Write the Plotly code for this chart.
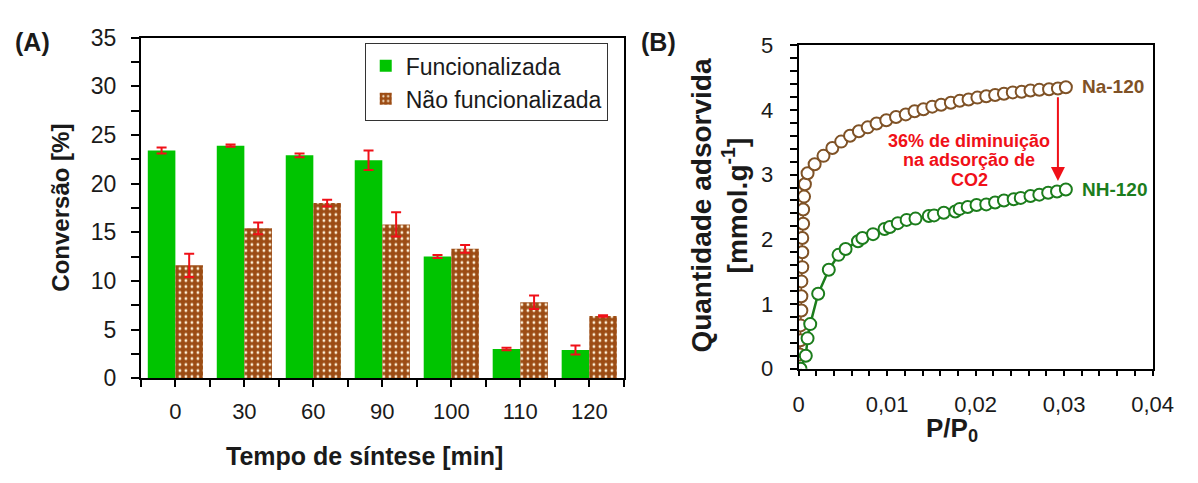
import plotly.graph_objects as go

# ---------------- Panel A data ----------------
tempo = ["0", "30", "60", "90", "100", "110", "120"]
func_vals = [23.4, 23.9, 22.9, 22.4, 12.5, 3.0, 2.9]
func_err = [0.3, 0.12, 0.2, 1.0, 0.15, 0.12, 0.45]
nfunc_vals = [11.6, 15.4, 18.0, 15.8, 13.3, 7.8, 6.4]
nfunc_err = [1.2, 0.6, 0.35, 1.25, 0.4, 0.7, 0.08]

# ---------------- Panel B data ----------------
na_p = [0.0001, 0.0002, 0.0002, 0.0003, 0.0003, 0.0003, 0.0004, 0.0004, 0.0004, 0.0005, 0.0005, 0.0006, 0.0007,
        0.0010, 0.0018, 0.0028, 0.0038, 0.0048, 0.0058, 0.0068, 0.0078, 0.0088, 0.0099,
        0.0110, 0.0121, 0.0131, 0.0141, 0.0151, 0.0161, 0.0172, 0.0182, 0.0192, 0.0202,
        0.0212, 0.0222, 0.0232, 0.0242, 0.0252, 0.0262, 0.0272, 0.0283, 0.0293, 0.0302]
na_q = [0.22, 0.44, 0.67, 0.90, 1.12, 1.35, 1.57, 1.80, 2.02, 2.24, 2.46, 2.66, 2.85,
        3.02, 3.16, 3.29, 3.41, 3.51, 3.60, 3.67, 3.73, 3.79, 3.84,
        3.89, 3.93, 3.98, 4.01, 4.05, 4.08, 4.11, 4.14, 4.16, 4.19,
        4.21, 4.23, 4.25, 4.27, 4.28, 4.30, 4.31, 4.32, 4.33, 4.35]
nh_p = [0.0002, 0.0008, 0.0010, 0.0013, 0.0022, 0.0034, 0.0045, 0.0053, 0.0067, 0.0072, 0.0084,
        0.0097, 0.0103, 0.0112, 0.0122, 0.0132, 0.0147, 0.0153, 0.0164, 0.0177, 0.0182, 0.0191,
        0.0201, 0.0212, 0.0222, 0.0232, 0.0243, 0.0251, 0.0262, 0.0272, 0.0282, 0.0292, 0.0302]
nh_q = [0.0, 0.2, 0.47, 0.69, 1.16, 1.53, 1.76, 1.85, 1.97, 2.02, 2.08,
        2.16, 2.19, 2.25, 2.30, 2.32, 2.36, 2.37, 2.41, 2.43, 2.47, 2.50,
        2.53, 2.54, 2.57, 2.60, 2.62, 2.64, 2.67, 2.69, 2.72, 2.74, 2.77]

note_lines = ["36% de diminuição", "na adsorção de", "CO2"]
note_y = [3.52, 3.22, 2.92]

FONT = "Liberation Sans, Arial, sans-serif"
GREEN = "#00c400"
BROWN = "#9c4c14"
RED = "#f01018"
NA_COL = "#7f5226"
NH_COL = "#1c7d1c"
TXT = "#1a1a1a"

W, H = 1198, 483


def px_x(x):
    return x / W


def px_y(y):
    return 1 - y / H


idx = list(range(len(tempo)))

fig = go.Figure()
fig.add_trace(go.Bar(
    x=idx, y=func_vals, name="Funcionalizada",
    marker=dict(color=GREEN, line=dict(width=0)),
    error_y=dict(type="data", array=func_err, color=RED, thickness=2, width=5),
    xaxis="x", yaxis="y", offsetgroup="a",
))
fig.add_trace(go.Bar(
    x=idx, y=nfunc_vals, name="Não funcionalizada",
    marker=dict(color=BROWN, line=dict(width=0),
                pattern=dict(shape=".", fgcolor="#fff4dc", bgcolor=BROWN, size=6, solidity=0.17,
                             fillmode="replace")),
    error_y=dict(type="data", array=nfunc_err, color=RED, thickness=2, width=5),
    xaxis="x", yaxis="y", offsetgroup="b",
))

fig.add_trace(go.Scatter(
    x=na_p, y=na_q, mode="lines+markers", showlegend=False,
    line=dict(color=NA_COL, width=1.5),
    marker=dict(symbol="circle", size=12, color="white", line=dict(color=NA_COL, width=2)),
    xaxis="x2", yaxis="y2",
))
fig.add_trace(go.Scatter(
    x=nh_p, y=nh_q, mode="lines+markers", showlegend=False,
    line=dict(color=NH_COL, width=2.5),
    marker=dict(symbol="circle", size=12, color="white", line=dict(color=NH_COL, width=2)),
    xaxis="x2", yaxis="y2",
))

fig.update_layout(
    width=W, height=H,
    margin=dict(l=0, r=0, t=0, b=0),
    paper_bgcolor="white", plot_bgcolor="white",
    separators=",.",
    barmode="group", bargap=0.2, bargroupgap=0,
    font=dict(family=FONT, color=TXT),
    showlegend=True,
    legend=dict(
        x=px_x(367), y=px_y(32), xanchor="left", yanchor="top",
        bordercolor="#333", borderwidth=1, bgcolor="white",
        font=dict(family=FONT, size=23, color=TXT),
        entrywidth=246, entrywidthmode="pixels",
    ),
    xaxis=dict(
        domain=[px_x(138), px_x(632)], range=[-0.5, 6.5],
        tickmode="array", tickvals=idx, ticktext=tempo,
        ticks="outside", ticklen=7, tickwidth=2, tickcolor="black",
        minor=dict(tickmode="linear", tick0=-0.5, dtick=1, ticks="outside", ticklen=7, tickwidth=2, tickcolor="black"),
        showline=True, linecolor="black", linewidth=2, mirror=True,
        showgrid=False, zeroline=False, tickfont=dict(family=FONT, size=22, color=TXT), anchor="y",
        ticklabelstandoff=5,
    ),
    yaxis=dict(
        domain=[px_y(386), px_y(26)], range=[0, 35],
        tickmode="linear", tick0=0, dtick=5,
        ticks="outside", ticklen=8, tickwidth=2, tickcolor="black",
        minor=dict(tickmode="linear", tick0=0, dtick=2.5, ticks="outside", ticklen=8, tickwidth=2, tickcolor="black"),
        showline=True, linecolor="black", linewidth=2, mirror=True,
        showgrid=False, zeroline=False, tickfont=dict(family=FONT, size=23, color=TXT), anchor="x",
        ticklabelstandoff=10,
    ),
    xaxis2=dict(
        domain=[px_x(811), px_x(1173)], range=[0, 0.04],
        tickmode="linear", tick0=0, dtick=0.01,
        ticks="outside", ticklen=5, tickwidth=2, tickcolor="black",
        minor=dict(tickmode="linear", tick0=0, dtick=0.002, ticks="outside", ticklen=5, tickwidth=2, tickcolor="black"),
        showline=True, linecolor="black", linewidth=2, mirror=True,
        showgrid=False, zeroline=False, tickfont=dict(family=FONT, size=22, color=TXT), anchor="y2",
        ticklabelstandoff=10,
    ),
    yaxis2=dict(
        domain=[px_y(376), px_y(34)], range=[0, 5],
        tickmode="linear", tick0=0, dtick=1,
        ticks="outside", ticklen=7, tickwidth=2, tickcolor="black",
        minor=dict(tickmode="linear", tick0=0, dtick=0.2, ticks="outside", ticklen=7, tickwidth=2, tickcolor="black"),
        showline=True, linecolor="black", linewidth=2, mirror=True,
        showgrid=False, zeroline=False, tickfont=dict(family=FONT, size=22, color=TXT), anchor="x2",
        ticklabelstandoff=12,
    ),
)

bold = lambda s: "<b>" + s + "</b>"
ann = []
ann.append(dict(x=px_x(7), y=px_y(31), xref="paper", yref="paper", xanchor="left", yanchor="middle",
                text=bold("(A)"), showarrow=False, font=dict(family=FONT, size=25, color=TXT)))
ann.append(dict(x=px_x(648), y=px_y(31), xref="paper", yref="paper", xanchor="left", yanchor="middle",
                text=bold("(B)"), showarrow=False, font=dict(family=FONT, size=25, color=TXT)))
ann.append(dict(x=px_x(56), y=px_y(206), xref="paper", yref="paper", xanchor="center", yanchor="middle",
                text=bold("Conversão [%]"), textangle=-90, showarrow=False,
                font=dict(family=FONT, size=24, color=TXT)))
ann.append(dict(x=px_x(367), y=px_y(468), xref="paper", yref="paper", xanchor="center", yanchor="middle",
                text=bold("Tempo de síntese [min]"), showarrow=False,
                font=dict(family=FONT, size=25, color=TXT)))
ann.append(dict(x=px_x(729), y=px_y(204), xref="paper", yref="paper", xanchor="center", yanchor="middle",
                text=bold("Quantidade adsorvida<br>[mmol.g<sup>-1</sup>]"), textangle=-90, showarrow=False,
                font=dict(family=FONT, size=28, color=TXT)))
ann.append(dict(x=px_x(968), y=px_y(440), xref="paper", yref="paper", xanchor="center", yanchor="middle",
                text=bold("P/P<sub>0</sub>"), showarrow=False,
                font=dict(family=FONT, size=26, color=TXT)))
ann.append(dict(x=0.0318, y=4.36, xref="x2", yref="y2", xanchor="left", yanchor="middle",
                text=bold("Na-120"), showarrow=False, font=dict(family=FONT, size=19, color=NA_COL)))
ann.append(dict(x=0.0318, y=2.77, xref="x2", yref="y2", xanchor="left", yanchor="middle",
                text=bold("NH-120"), showarrow=False, font=dict(family=FONT, size=19, color=NH_COL)))
for line, yy in zip(note_lines, note_y):
    ann.append(dict(x=0.0193, y=yy, xref="x2", yref="y2", xanchor="center", yanchor="middle",
                    text=bold(line), showarrow=False,
                    font=dict(family=FONT, size=18, color=RED)))
ann.append(dict(x=0.0293, y=2.90, ax=0.0293, ay=4.22, xref="x2", yref="y2", axref="x2", ayref="y2",
                text="", showarrow=True, arrowhead=2, arrowsize=1.4, arrowwidth=2, arrowcolor=RED))
fig.update_layout(annotations=ann)

fig.write_html("out.html")
